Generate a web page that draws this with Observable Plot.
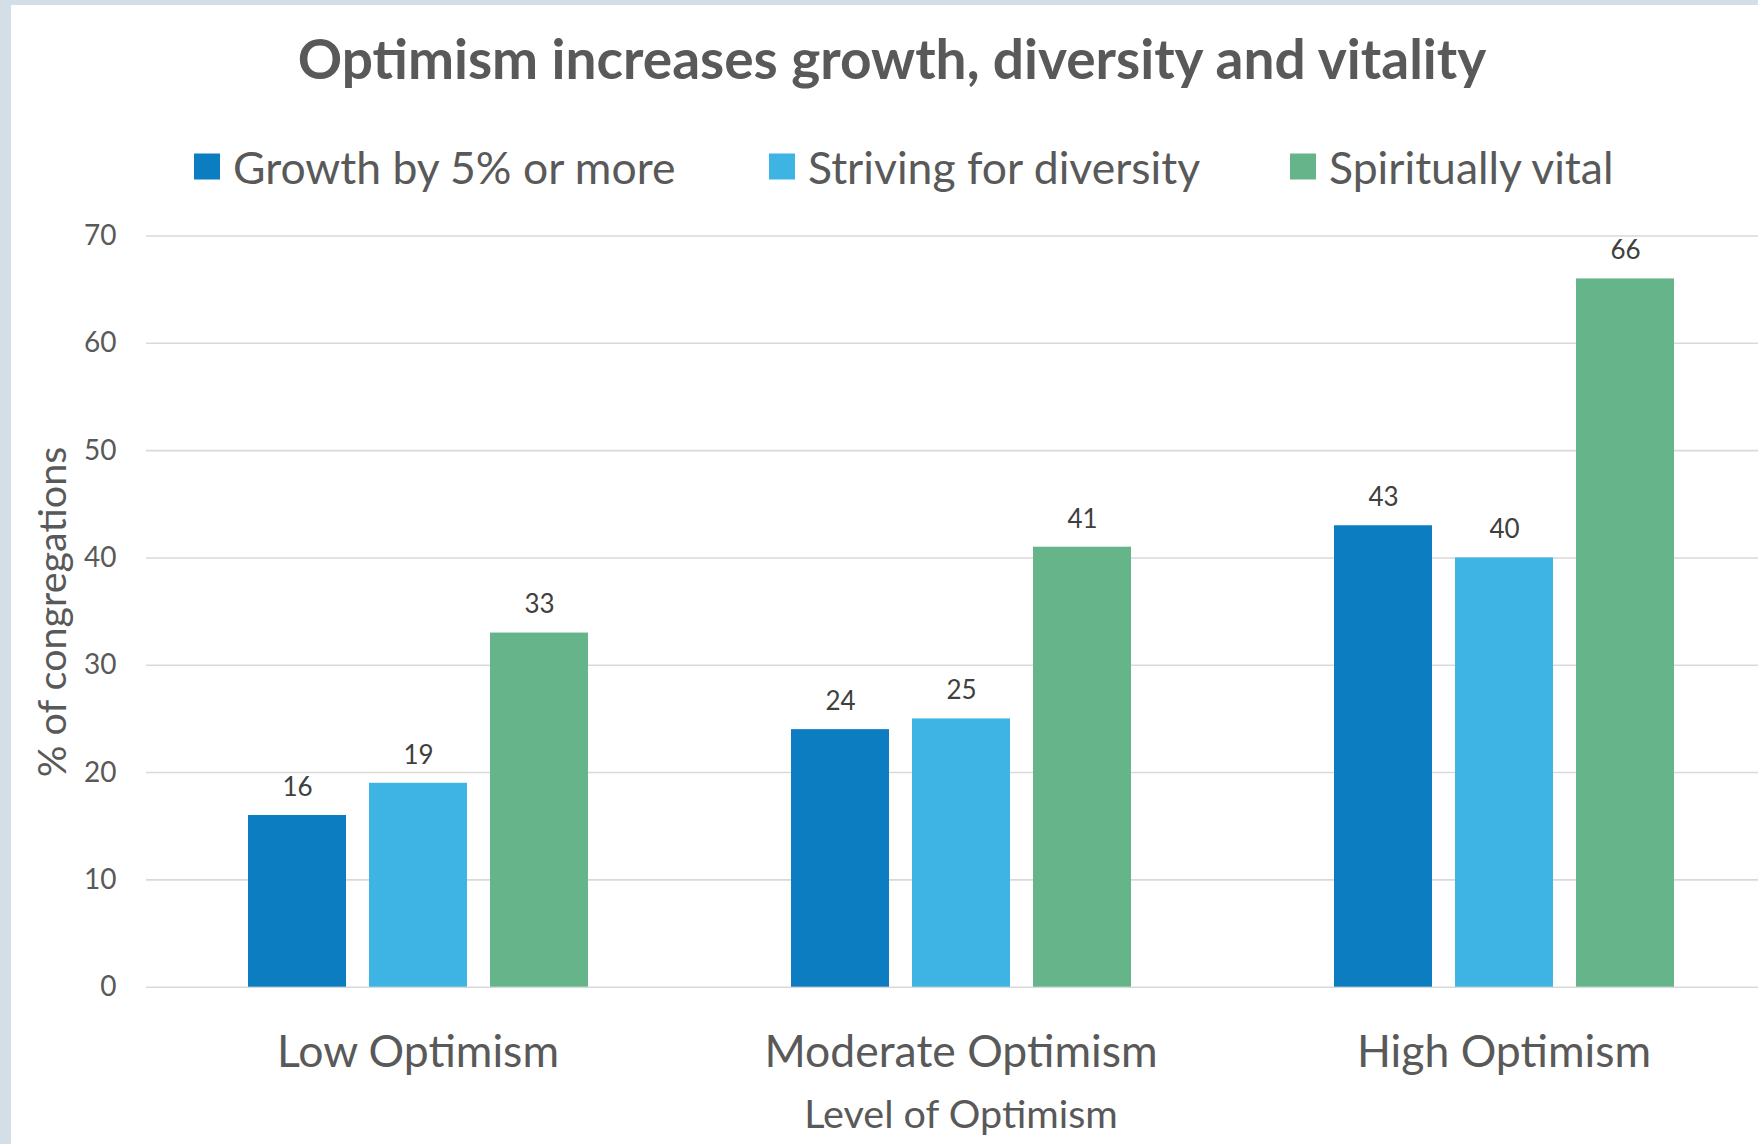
<!DOCTYPE html>
<html>
<head>
<meta charset="utf-8">
<script src="https://cdn.jsdelivr.net/npm/d3@7"></script>
<script src="https://cdn.jsdelivr.net/npm/@observablehq/plot@0.6"></script>
<style>
  body { margin: 0; background: #fff; }
  #frame { position: relative; width: 1758px; height: 1144px; background: #fff; overflow: hidden; font-family: Lato, "Open Sans", sans-serif; color: #595959; }
  .bar-left { position: absolute; left: 0; top: 0; width: 11px; height: 1144px; background: #d4dee7; }
  .bar-top { position: absolute; left: 0; top: 0; width: 1758px; height: 5px; background: #d4dee7; }
  #title { position: absolute; left: 892px; top: 58px; transform: translate(-50%, -50%); font-weight: 700; font-size: 55px; white-space: nowrap; }
  .leg { position: absolute; top: 166px; transform: translateY(-50%); font-size: 44.5px; white-space: nowrap; display: flex; align-items: center; }
  .sw { width: 26px; height: 26px; margin-right: 13px; display: inline-block; }
  #ytitle { position: absolute; left: 50px; top: 612px; transform: translate(-50%, -50%) rotate(-90deg); font-size: 39.5px; white-space: nowrap; }
  #xtitle { position: absolute; left: 961px; top: 1112px; transform: translate(-50%, -50%); font-size: 39.5px; white-space: nowrap; }
  #chart { position: absolute; left: 11px; top: 200px; }
</style>
</head>
<body>
<div id="frame">
  <div class="bar-left"></div>
  <div class="bar-top"></div>
  <div id="title">Optimism increases growth, diversity and vitality</div>
  <div id="legend"></div>
  <div id="ytitle">% of congregations</div>
  <div id="xtitle">Level of Optimism</div>
  <div id="chart"></div>
</div>
<script>
const categories = ["Low Optimism", "Moderate Optimism", "High Optimism"];
const seriesNames = ["Growth by 5% or more", "Striving for diversity", "Spiritually vital"];
const seriesColors = ["#0c7dc1", "#3db4e3", "#66b58a"];
const growth = [16, 24, 43];
const diversity = [19, 25, 40];
const vital = [33, 41, 66];
const yTicks = [0, 10, 20, 30, 40, 50, 60, 70];

const seriesValues = [growth, diversity, vital];
const data = [];
categories.forEach((c, i) => {
  seriesNames.forEach((s, j) => data.push({category: c, series: s, value: seriesValues[j][i]}));
});

// legend
const legendX = [194, 769, 1290];
const legend = document.getElementById("legend");
seriesNames.forEach((s, j) => {
  const d = document.createElement("div");
  d.className = "leg";
  d.style.left = legendX[j] + "px";
  d.innerHTML = `<span class="sw" style="background:${seriesColors[j]}"></span><span>${s}</span>`;
  legend.appendChild(d);
});

const W = 1747, H = 944;
const plot = Plot.plot({
  width: W,
  height: H,
  marginLeft: 135,
  marginRight: -17,
  marginTop: 35.5,
  marginBottom: 157.3,
  style: {fontFamily: "Lato, 'Open Sans', sans-serif", color: "#595959", background: "transparent"},
  fx: {domain: categories, paddingInner: 0, paddingOuter: 0},
  x: {domain: seriesNames, paddingInner: 0.194, paddingOuter: 0.84, axis: null},
  y: {domain: [0, 70]},
  color: {domain: seriesNames, range: seriesColors},
  marks: [
    Plot.gridY(yTicks, {stroke: "#d9d9d9", strokeOpacity: 1, strokeWidth: 1.6}),
    Plot.axisY(yTicks, {tickSize: 0, tickPadding: 30, fontSize: 28, label: null, fill: "#595959"}),
    Plot.axisFx({anchor: "bottom", tickSize: 0, tickPadding: 48, fontSize: 44.5, label: null, fill: "#595959"}),
    Plot.barY(data, {fx: "category", x: "series", y: "value", fill: "series"}),
    Plot.text(data, {fx: "category", x: "series", y: "value", text: d => String(d.value), dy: -28, fontSize: 26, fill: "#404040"})
  ]
});
document.getElementById("chart").appendChild(plot);
</script>
</body>
</html>
